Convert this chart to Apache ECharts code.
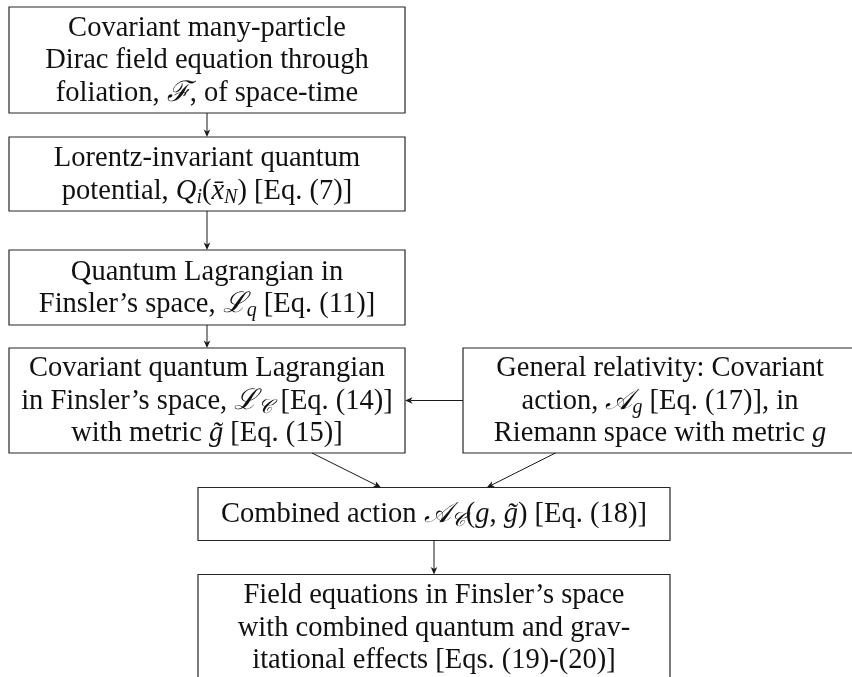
<!DOCTYPE html>
<html><head><meta charset="utf-8">
<script src="https://cdn.jsdelivr.net/npm/echarts@6/dist/echarts.min.js"></script>
<style>html,body{margin:0;padding:0;background:#fff}#c{width:852px;height:677px}</style>
</head><body><div id="c"></div>
<script>
// ---- content (text of each node, rich-text markup for math) ----
const nodeLines = [
  ['Covariant many-particle', 'Dirac field equation through', 'foliation, {i|ℱ}, of space-time'],
  ['Lorentz-invariant quantum', 'potential, {i|Q}{s|i}({i|x̄}{s|N}) [Eq. (7)]'],
  ['Quantum Lagrangian in', 'Finsler\u2019s space, {i|ℒ}{s|q} [Eq. (11)]'],
  ['Covariant quantum Lagrangian', 'in Finsler\u2019s space, {i|ℒ}{s|𝒞} [Eq. (14)]', 'with metric {i|g̃} [Eq. (15)]'],
  ['General relativity: Covariant', 'action, {i|𝒜}{s|g} [Eq. (17)], in', 'Riemann space with metric {i|g}'],
  ['Combined action {i|𝒜}{s|𝒞}({i|g}, {i|g̃}) [Eq. (18)]'],
  ['Field equations in Finsler\u2019s space', 'with combined quantum and grav-', 'itational effects [Eqs. (19)-(20)]']
];
// ---- edges (source -> target node index) ----
const edgeFrom = [0, 1, 2, 4, 3, 4, 5];
const edgeTo   = [1, 2, 3, 3, 5, 5, 6];

// ---- layout (page units), kept separate from the content ----
const nodeBoxes = [
  [9, 7, 405, 113],
  [9, 137, 405, 211],
  [9, 250, 405, 325],
  [9, 348, 405, 453],
  [463, 348, 857, 453],
  [198, 487.5, 670, 540.5],
  [198, 574.5, 670, 680.5]
];
const LINE_H = 32.5;
const TEXT_DY = 1;
const FONT = '"Liberation Serif", "DejaVu Serif", serif';
const FS = 28.5;
const INK = '#111';
const rich = {
  r: { fontFamily: FONT, fontSize: FS, fill: INK, lineHeight: 32 },
  i: { fontFamily: FONT, fontSize: FS, fontStyle: 'italic', fill: INK, lineHeight: 32 },
  s: { fontFamily: FONT, fontSize: 20, fontStyle: 'italic', fill: INK, lineHeight: 20, verticalAlign: 'bottom' }
};
function toRich(line) {
  const parts = [];
  const re = /\{(\w)\|([^}]*)\}/g;
  let last = 0, m;
  while ((m = re.exec(line))) {
    if (m.index > last) parts.push('{r|' + line.slice(last, m.index) + '}');
    parts.push(m[0]);
    last = re.lastIndex;
  }
  if (last < line.length) parts.push('{r|' + line.slice(last) + '}');
  return parts.join('');
}
function center(b) { return [(b[0] + b[2]) / 2, (b[1] + b[3]) / 2]; }
function clipT(b, dx, dy) {
  const hw = (b[2] - b[0]) / 2, hh = (b[3] - b[1]) / 2;
  let t = Infinity;
  if (dx !== 0) t = Math.min(t, hw / Math.abs(dx));
  if (dy !== 0) t = Math.min(t, hh / Math.abs(dy));
  return t;
}

const chart = echarts.init(document.getElementById('c'), null, { renderer: 'canvas' });
chart.setOption({
  backgroundColor: '#fff',
  animation: false,
  grid: { left: 0, right: 0, top: 0, bottom: 0 },
  xAxis: { type: 'value', min: 0, max: 852, show: false },
  yAxis: { type: 'value', min: 0, max: 677, inverse: true, show: false },
  series: [
    {
      type: 'custom', coordinateSystem: 'cartesian2d', clip: false, silent: true,
      data: nodeLines.map((_, k) => [k]),
      encode: { x: 0, y: 0 },
      renderItem: function (params, api) {
        const k = api.value(0);
        const b = nodeBoxes[k];
        const p0 = api.coord([b[0], b[1]]);
        const p1 = api.coord([b[2], b[3]]);
        const cx = (p0[0] + p1[0]) / 2, cy = (p0[1] + p1[1]) / 2 + TEXT_DY;
        const lines = nodeLines[k];
        const children = [{
          type: 'rect',
          shape: { x: p0[0], y: p0[1], width: p1[0] - p0[0], height: p1[1] - p0[1] },
          style: { fill: '#fff', stroke: '#262626', lineWidth: 1.2 }
        }];
        lines.forEach((ln, j) => {
          children.push({
            type: 'text',
            x: cx, y: cy + (j - (lines.length - 1) / 2) * LINE_H,
            style: { text: toRich(ln), rich: rich, align: 'center', verticalAlign: 'middle',
                     fontFamily: FONT, fontSize: FS, fill: INK }
          });
        });
        return { type: 'group', children: children };
      }
    },
    {
      type: 'custom', coordinateSystem: 'cartesian2d', clip: false, silent: true,
      data: edgeFrom.map((_, k) => [k]),
      encode: { x: 0, y: 0 },
      renderItem: function (params, api) {
        const k = api.value(0);
        const A = nodeBoxes[edgeFrom[k]], B = nodeBoxes[edgeTo[k]];
        const ca = center(A), cb = center(B);
        const dx = cb[0] - ca[0], dy = cb[1] - ca[1];
        const ta = clipT(A, dx, dy), tb = clipT(B, -dx, -dy);
        const s = api.coord([ca[0] + dx * ta, ca[1] + dy * ta]);
        const e = api.coord([cb[0] - dx * tb, cb[1] - dy * tb]);
        const len = Math.hypot(e[0] - s[0], e[1] - s[1]);
        const ux = (e[0] - s[0]) / len, uy = (e[1] - s[1]) / len;
        const nx = -uy, ny = ux;
        const L = 7.5, W = 3.3, N = 2;
        const bx = e[0] - ux * L, by = e[1] - uy * L;
        return {
          type: 'group',
          children: [
            { type: 'line', shape: { x1: s[0], y1: s[1], x2: e[0] - ux * (L - N), y2: e[1] - uy * (L - N) },
              style: { stroke: '#1a1a1a', lineWidth: 1 } },
            { type: 'polygon', shape: { points: [
                [e[0], e[1]],
                [bx + nx * W, by + ny * W],
                [e[0] - ux * (L - N), e[1] - uy * (L - N)],
                [bx - nx * W, by - ny * W]
              ] }, style: { fill: '#1a1a1a' } }
          ]
        };
      }
    }
  ]
});
</script></body></html>
